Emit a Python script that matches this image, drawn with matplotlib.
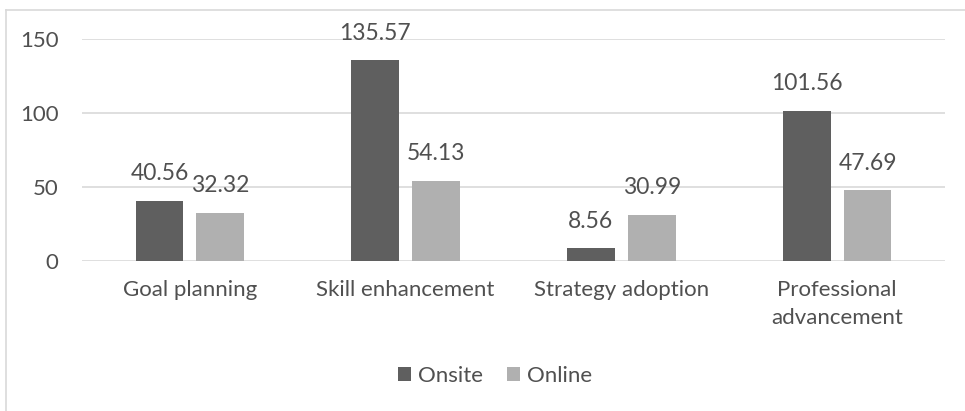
import numpy as np
import matplotlib.pyplot as plt
from matplotlib.lines import Line2D

categories = ["Goal planning", "Skill enhancement", "Strategy adoption", "Professional\nadvancement"]
onsite = [40.56, 135.57, 8.56, 101.56]
online = [32.32, 54.13, 30.99, 47.69]
yticks = [0, 50, 100, 150]

text_color = "#505050"
plt.rcParams['font.family'] = ['Lato', 'DejaVu Sans']
plt.rcParams['font.size'] = 16

fig = plt.figure(figsize=(9.65, 4.11), dpi=100)
ax = fig.add_axes([82 / 965, 1 - 261 / 411, (945 - 82) / 965, (261 - 39) / 411])

x = np.arange(len(categories))
w = 0.222
off = 0.141
b1 = ax.bar(x - off, onsite, w, color="#5f5f5f", label="Onsite", zorder=3)
b2 = ax.bar(x + off, online, w, color="#b0b0b0", label="Online", zorder=3)

for bars in (b1, b2):
    for rect in bars:
        h = rect.get_height()
        ax.annotate(f"{h:.2f}", (rect.get_x() + rect.get_width() / 2, h),
                    xytext=(0, 12), textcoords="offset points",
                    ha="center", va="bottom", color=text_color, fontsize=16.5)

ax.set_xlim(-0.5, len(categories) - 0.5)
ax.set_ylim(0, 150)
ax.set_yticks(yticks)
ax.set_xticks(x)
ax.set_xticklabels(categories, linespacing=1.5)
ax.yaxis.grid(True, color="#d9d9d9", linewidth=1.2, zorder=0)
ax.tick_params(axis="both", length=0, colors=text_color, labelsize=16)
ax.tick_params(axis="y", pad=17)
ax.tick_params(axis="x", pad=14)
for s in ax.spines.values():
    s.set_visible(False)
ax.set_facecolor("none")

leg = fig.legend(handles=[b1, b2], labels=["Onsite", "Online"], loc="center",
                 bbox_to_anchor=(495 / 965, 1 - 376 / 411), ncol=2, frameon=False,
                 handlelength=0.6, handleheight=0.6, handletextpad=0.3,
                 columnspacing=1.1, fontsize=16)
for t in leg.get_texts():
    t.set_color(text_color)

# chart border (left and top only visible)
fig.add_artist(Line2D([6 / 965, 6 / 965], [0, 1 - 10 / 411], transform=fig.transFigure,
                      color="#d9d9d9", linewidth=1.2))
fig.add_artist(Line2D([6 / 965, 1], [1 - 10 / 411, 1 - 10 / 411], transform=fig.transFigure,
                      color="#d9d9d9", linewidth=1.2))

fig.savefig("out.png", dpi=100)
